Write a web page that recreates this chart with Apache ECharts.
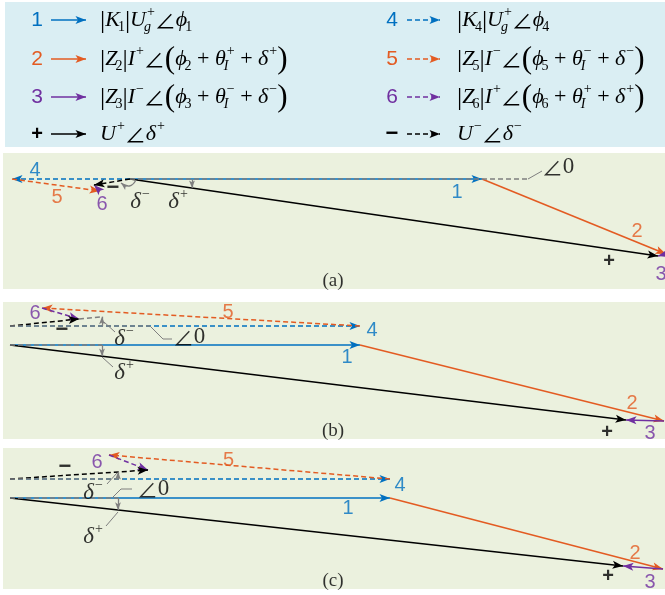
<!DOCTYPE html>
<html>
<head>
<meta charset="utf-8">
<script src="https://cdn.jsdelivr.net/npm/echarts@6/dist/echarts.min.js"></script>
<style>
html, body { margin: 0; padding: 0; background: #fff; }
#chart { width: 665px; height: 595px; }
</style>
</head>
<body>
<div id="chart"></div>
<script>
// ---------- phasor data (units: px, x to the right, y up; chained head to tail) ----------
const panelCaptions = ['(a)', '(b)', '(c)'];
const solidOrigin  = [[0, 0], [0, 0], [0, 0]];
const dashedOrigin = [[0, 0], [0, 19], [0, 19]];
// positive-sequence chain: 1 -> 2 -> 3, resultant "+"
const vec1 = [[352, 0], [350, 0], [380, 0]];
const vec2 = [[184, -75], [304, -76], [273, -71]];
const vec3 = [[-8, -2], [-38, 1], [-40, 3]];
// negative-sequence chain: 4 -> 5 -> 6, resultant "−"
const vec4 = [[-118, 0], [350, 0], [380, 0]];
const vec5 = [[88, -12], [-318, 18], [-281, 24]];
const vec6 = [[-6, 6], [37, -11], [39, -15]];
// angle reference (∠0) lengths and the x where δ markers sit
const refSolidLen  = [398, 92, 108];
const refDashedLen = [0, 140, 113];
const deltaX       = [62, 92, 108];
// leader lines and annotation anchors
const leaderZero  = [[[398, 0], [412, 8]], [[140, 19], [153, 6], [162, 6]], [[102, 0], [111, 9], [122, 9]]];
const leaderMinus = [null, [[94, 23], [105, 13]], [[107, 25], [97, 14]]];
const leaderPlus  = [null, [[92, -12], [103, -22]], [[108, -14], [96, -28]]];
const zeroLabelAt  = [[428, 12], [179, 8], [143, 9]];
const minusLabelAt = [[10, -21], [114, 8], [83, 7]];
const plusLabelAt  = [[48, -21], [114, -26], [83, -37]];
const arcMinusA = [[6, -1], [-9, -4]];

// ---------- layout & style ----------
const FONT_SERIF = '"Liberation Serif", "Times New Roman", serif';
const FONT_SANS = '"Liberation Sans", Arial, sans-serif';
const FONT_ANGLE = '"Noto Sans CJK SC", "DejaVu Sans", sans-serif';
const BLUE = '#0070c0', ORANGE = '#e35b22', PURPLE = '#7030a0', BLACK = '#000000', GRAY = '#7f7f7f';
const PANEL_BG = '#ebf1de', LEGEND_BG = '#daeef3';
const ARROW = 'path://M-11,-11M11,11M0,0L4,10.5L0,8L-4,10.5Z';

const panelBox = [
  { top: 153, bottom: 289, ox: 130, oy: 179 },
  { top: 302, bottom: 439, ox: 10,  oy: 345 },
  { top: 448, bottom: 589, ox: 10,  oy: 498 }
];
// where each vector's number sits: [anchor, dx, dy] (screen px)
const labelPlace = [
  { '1': ['P1', -25, 13], '2': ['P2', -29, -23], '3': ['P3', 3, 18], '+': ['P3', -49, 5],
    '4': ['Q4', 23, -9], '5': ['M5', 1, 12], '6': ['Q6', 8, 19], '−': ['Q6', 19, 3] },
  { '1': ['P1', -13, 12], '2': ['P2', -32, -18], '3': ['P3', 24, 13], '+': ['P3', -19, 12],
    '4': ['Q4', 12, 4], '5': ['M5', 27, -5], '6': ['Q5', -7, 5], '−': ['Q6', -17, 11] },
  { '1': ['P1', -42, 10], '2': ['P2', -28, -16], '3': ['P3', 27, 16], '+': ['P3', -15, 10],
    '4': ['Q4', 10, 6], '5': ['M5', -21, -7], '6': ['Q5', -12, 7], '−': ['Q6', -83, -3] }
];
const keyColor = { '1': BLUE, '2': ORANGE, '3': PURPLE, '+': BLACK, '4': BLUE, '5': ORANGE, '6': PURPLE, '−': BLACK };

// ---------- legend text ----------
const legendRowY = [20, 59, 97, 134];
const legendCols = [
  { numX: 37, arrowFrom: 51, arrowTo: 86, textX: 100, dashed: false, keys: ['1', '2', '3', '+'] },
  { numX: 392, arrowFrom: 407, arrowTo: 440, textX: 457, dashed: true, keys: ['4', '5', '6', '−'] }
];
const bar = { t: '|', s: 26, dy: 1 };
const lp = { t: '(', s: 31, dy: 1 }, rp = { t: ')', s: 31, dy: 1 };
const plus = { t: ' + ' };
const ang = { t: '∠', s: 21, fam: FONT_ANGLE, dy: 0 };
const legendFormulas = {
  '1': [bar, { t: 'K', it: 1, sub: '1' }, bar, { t: 'U', it: 1, sup: '+', sub: 'g', subIt: 1 }, ang, { t: 'ϕ', it: 1, sub: '1' }],
  '2': [bar, { t: 'Z', it: 1, sub: '2' }, bar, { t: 'I', it: 1, sup: '+' }, ang, lp, { t: 'ϕ', it: 1, sub: '2' }, plus,
        { t: 'θ', it: 1, sup: '+', sub: 'I', subIt: 1 }, plus, { t: 'δ', it: 1, sup: '+' }, rp],
  '3': [bar, { t: 'Z', it: 1, sub: '3' }, bar, { t: 'I', it: 1, sup: '−' }, ang, lp, { t: 'ϕ', it: 1, sub: '3' }, plus,
        { t: 'θ', it: 1, sup: '−', sub: 'I', subIt: 1 }, plus, { t: 'δ', it: 1, sup: '−' }, rp],
  '+': [{ t: 'U', it: 1, sup: '+' }, ang, { t: 'δ', it: 1, sup: '+' }],
  '4': [bar, { t: 'K', it: 1, sub: '4' }, bar, { t: 'U', it: 1, sup: '+', sub: 'g', subIt: 1 }, ang, { t: 'ϕ', it: 1, sub: '4' }],
  '5': [bar, { t: 'Z', it: 1, sub: '5' }, bar, { t: 'I', it: 1, sup: '−' }, ang, lp, { t: 'ϕ', it: 1, sub: '5' }, plus,
        { t: 'θ', it: 1, sup: '−', sub: 'I', subIt: 1 }, plus, { t: 'δ', it: 1, sup: '−' }, rp],
  '6': [bar, { t: 'Z', it: 1, sub: '6' }, bar, { t: 'I', it: 1, sup: '+' }, ang, lp, { t: 'ϕ', it: 1, sub: '6' }, plus,
        { t: 'θ', it: 1, sup: '+', sub: 'I', subIt: 1 }, plus, { t: 'δ', it: 1, sup: '+' }, rp],
  '−': [{ t: 'U', it: 1, sup: '−' }, ang, { t: 'δ', it: 1, sup: '−' }]
};

// ---------- helpers ----------
const measureCtx = document.createElement('canvas').getContext('2d');
function textWidth(font, s) { measureCtx.font = font; return measureCtx.measureText(s).width; }
function fontOf(size, italic, fam) { return (italic ? 'italic ' : '') + size + 'px ' + (fam || FONT_SERIF); }
function txt(x, y, text, font, fill) {
  return { type: 'text', x: x, y: y, silent: true,
    style: { text: text, font: font, fill: fill || '#000', align: 'left', verticalAlign: 'middle' } };
}
function formulaElements(x0, yc, toks) {
  const out = [];
  let x = x0;
  toks.forEach(k => {
    const size = k.s || 22;
    const f = fontOf(size, k.it, k.fam);
    out.push(txt(x, yc + (k.dy || 0), k.t, f));
    const w = textWidth(f, k.t);
    let extra = 0;
    if (k.sup) {
      const sf = fontOf(14, k.supIt);
      out.push(txt(x + w + (k.it ? 1 : 0.5), yc - 8, k.sup, sf));
      extra = Math.max(extra, textWidth(sf, k.sup) + 1);
    }
    if (k.sub) {
      const sf = fontOf(14, k.subIt);
      out.push(txt(x + w - (k.it ? 2 : 0), yc + 7, k.sub, sf));
      extra = Math.max(extra, textWidth(sf, k.sub) - (k.it ? 2 : 0));
    }
    x += w + extra;
  });
  return out;
}
const add = (p, v) => [p[0] + v[0], p[1] + v[1]];
const mid = (a, b) => [(a[0] + b[0]) / 2, (a[1] + b[1]) / 2];
function pointAtX(from, to, x) {
  const t = (x - from[0]) / (to[0] - from[0]);
  return [x, from[1] + t * (to[1] - from[1])];
}

// ---------- build option ----------
const grids = [{ left: 5, top: 2, width: 660, height: 145, show: true, backgroundColor: LEGEND_BG, borderWidth: 0 }];
const xAxes = [{ type: 'value', gridIndex: 0, min: 5, max: 665, show: false }];
const yAxes = [{ type: 'value', gridIndex: 0, min: 2, max: 147, inverse: true, show: false }];
const series = [];
const graphics = [];

function arrowLines(gi, data, color, dashed, width, size) {
  return {
    type: 'lines', coordinateSystem: 'cartesian2d', xAxisIndex: gi, yAxisIndex: gi,
    clip: false, silent: true, polyline: false,
    symbol: ['none', ARROW], symbolSize: size || 22,
    lineStyle: { color: color, width: width || 1.5, type: dashed ? [5, 3] : 'solid', opacity: 1 },
    data: data
  };
}
function plainLines(gi, data, color, dashed, width) {
  return {
    type: 'lines', coordinateSystem: 'cartesian2d', xAxisIndex: gi, yAxisIndex: gi,
    clip: false, silent: true, polyline: true, symbol: 'none',
    lineStyle: { color: color, width: width || 1, type: dashed ? [5, 3] : 'solid', opacity: 1 },
    data: data
  };
}

// legend
legendCols.forEach(col => {
  col.keys.forEach((key, r) => {
    const y = legendRowY[r];
    const c = keyColor[key];
    series.push(arrowLines(0, [{ coords: [[col.arrowFrom, y], [col.arrowTo, y]], lineStyle: { color: c } }], c, col.dashed, 1.5));
    const isSign = key === '+' || key === '−';
    graphics.push({ type: 'text', x: col.numX, y: y, silent: true,
      style: { text: key, fill: c, align: 'center', verticalAlign: 'middle',
        font: (key === '−' ? 'bold 22px ' : (isSign ? 'bold 20px ' : '21px ')) + FONT_SANS } });
    formulaElements(col.textX, y, legendFormulas[key]).forEach(e => graphics.push(e));
  });
});

const deltaRich = {
  d: { fontFamily: FONT_SERIF, fontStyle: 'italic', fontSize: 23, color: '#000', lineHeight: 26, verticalAlign: 'bottom' },
  s: { fontFamily: FONT_SERIF, fontSize: 14, color: '#000', lineHeight: 26, verticalAlign: 'top', padding: [0, 0, 0, 1] },
  a: { fontFamily: FONT_ANGLE, fontSize: 21, color: '#000', lineHeight: 26 },
  z: { fontFamily: FONT_SERIF, fontSize: 23, color: '#000', lineHeight: 26 }
};

panelBox.forEach((pb, i) => {
  const gi = i + 1;
  grids.push({ left: 3, width: 662, top: pb.top, height: pb.bottom - pb.top, show: true, backgroundColor: PANEL_BG, borderWidth: 0 });
  xAxes.push({ type: 'value', gridIndex: gi, min: 3 - pb.ox, max: 665 - pb.ox, show: false });
  yAxes.push({ type: 'value', gridIndex: gi, min: -(pb.bottom - pb.oy), max: pb.oy - pb.top, show: false });

  const O = solidOrigin[i], D = dashedOrigin[i];
  const P1 = add(O, vec1[i]), P2 = add(P1, vec2[i]), P3 = add(P2, vec3[i]);
  const Q4 = add(D, vec4[i]), Q5 = add(Q4, vec5[i]), Q6 = add(Q5, vec6[i]);
  const pts = { P1, P2, P3, Q4, Q5, Q6, M5: mid(Q4, Q5) };

  // negative-sequence chain (dashed)
  series.push(arrowLines(gi, [
    { coords: [D, Q4], lineStyle: { color: BLUE } },
    { coords: [Q4, Q5], lineStyle: { color: ORANGE } },
    { coords: [Q5, Q6], lineStyle: { color: PURPLE } },
    { coords: [D, Q6], lineStyle: { color: BLACK } }
  ], BLUE, true));
  // positive-sequence chain (solid)
  series.push(arrowLines(gi, [
    { coords: [O, P1], lineStyle: { color: BLUE } },
    { coords: [P1, P2], lineStyle: { color: ORANGE } },
    { coords: [P2, P3], lineStyle: { color: PURPLE } },
    { coords: [O, P3], lineStyle: { color: BLACK } }
  ], BLUE, false));

  // ∠0 reference lines
  const refs = [{ coords: [O, [O[0] + refSolidLen[i], O[1]]] }];
  if (refDashedLen[i] > 0) refs.push({ coords: [D, [D[0] + refDashedLen[i], D[1]]] });
  // extension of the "−" resultant up to the δ− marker
  if (i > 0 && Q6[0] < deltaX[i]) refs.push({ coords: [Q6, pointAtX(D, Q6, deltaX[i])] });
  series.push(plainLines(gi, refs, GRAY, true, 1.5));

  // leaders
  const leads = [{ coords: leaderZero[i] }];
  if (leaderMinus[i]) leads.push({ coords: leaderMinus[i] });
  if (leaderPlus[i]) leads.push({ coords: leaderPlus[i] });
  series.push(plainLines(gi, leads, GRAY, false, 1));

  // δ markers
  const dArrows = [{ coords: [[deltaX[i], O[1]], pointAtX(O, P3, deltaX[i])] }];
  if (i > 0) dArrows.push({ coords: [[deltaX[i], D[1]], pointAtX(D, Q6, deltaX[i])] });
  series.push(arrowLines(gi, dArrows, GRAY, false, 1.3, 16));
  if (i === 0) {
    series.push(arrowLines(gi, [{ coords: arcMinusA, lineStyle: { curveness: 0.6 } }], GRAY, false, 1.3, 16));
  }

  // vector numbers
  const labelData = Object.keys(labelPlace[i]).map(key => {
    const [anchor, dx, dy] = labelPlace[i][key];
    const isMinus = key === '−';
    return {
      value: pts[anchor],
      label: {
        formatter: key, color: keyColor[key], offset: [dx, dy],
        fontFamily: FONT_SANS, fontSize: isMinus ? 22 : 20, fontWeight: (key === '+' || isMinus) ? 'bold' : 'normal'
      }
    };
  });
  // angle annotations
  labelData.push({ value: zeroLabelAt[i], label: { formatter: '{a|∠}{z|0}', rich: deltaRich } });
  labelData.push({ value: minusLabelAt[i], label: { formatter: '{d|δ}{s|−}', rich: deltaRich } });
  labelData.push({ value: plusLabelAt[i], label: { formatter: '{d|δ}{s|+}', rich: deltaRich } });
  series.push({
    type: 'scatter', xAxisIndex: gi, yAxisIndex: gi, symbolSize: 1, silent: true, clip: false,
    itemStyle: { color: 'rgba(0,0,0,0)' },
    label: { show: true, position: 'inside' },
    data: labelData
  });

  // caption
  series.push({
    type: 'scatter', xAxisIndex: gi, yAxisIndex: gi, symbolSize: 1, silent: true,
    itemStyle: { color: 'rgba(0,0,0,0)' },
    label: { show: true, position: 'inside', formatter: panelCaptions[i], color: '#000', fontFamily: FONT_SERIF, fontSize: 19 },
    data: [[333 - pb.ox, pb.oy - (pb.bottom - 8)]]
  });
});

const chart = echarts.init(document.getElementById('chart'), null, { renderer: 'canvas' });
chart.setOption({
  animation: false,
  backgroundColor: '#ffffff',
  grid: grids,
  xAxis: xAxes,
  yAxis: yAxes,
  series: series,
  graphic: { elements: graphics }
});
</script>
</body>
</html>
